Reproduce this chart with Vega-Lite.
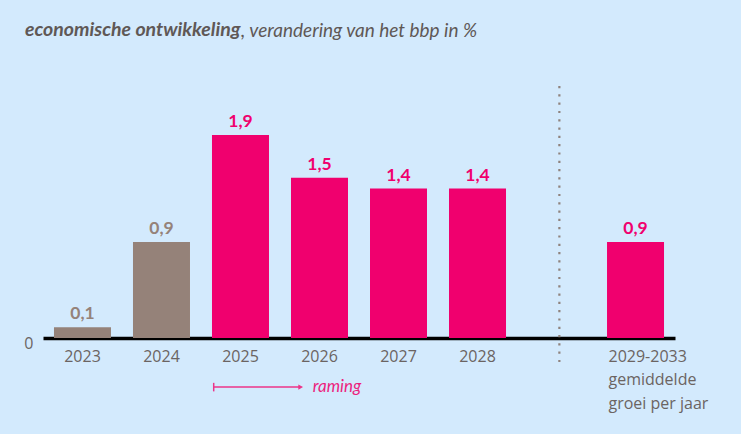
{
  "$schema": "https://vega.github.io/schema/vega-lite/v6.json",
  "width": 632,
  "height": 252,
  "autosize": {"type": "none"},
  "padding": {"left": 43, "top": 86, "right": 66, "bottom": 96},
  "background": "#d3eafd",
  "title": {
    "text": "economische ontwikkeling",
    "anchor": "start",
    "frame": "group",
    "dx": -18,
    "offset": -34,
    "baseline": "alphabetic",
    "font": "Lato",
    "fontSize": 19.5,
    "fontStyle": "italic",
    "fontWeight": "bold",
    "color": "#5f5856"
  },
  "config": {
    "view": {"stroke": null},
    "locale": {"number": {"decimal": ",", "thousands": ".", "grouping": [3], "currency": ["€", ""]}}
  },
  "datasets": {
    "bars": [
      {"cat": "2023", "value": 0.1, "type": "realisatie"},
      {"cat": "2024", "value": 0.9, "type": "realisatie"},
      {"cat": "2025", "value": 1.9, "type": "raming"},
      {"cat": "2026", "value": 1.5, "type": "raming"},
      {"cat": "2027", "value": 1.4, "type": "raming"},
      {"cat": "2028", "value": 1.4, "type": "raming"},
      {"cat": "2029-2033", "value": 0.9, "type": "raming"}
    ],
    "divider": [{"cat": "gap", "top": 2.36, "bottom": -0.28}],
    "arrow": [{"from": "2025", "to": "2026", "y": -0.46, "tickTop": -0.42, "tickBottom": -0.5, "label": "raming"}]
  },
  "layer": [
    {
      "data": {"name": "bars"},
      "mark": {"type": "bar"},
      "encoding": {
        "x": {
          "field": "cat",
          "type": "nominal",
          "sort": null,
          "scale": {
            "domain": ["2023", "2024", "2025", "2026", "2027", "2028", "gap", "2029-2033"],
            "paddingInner": 0.2785,
            "paddingOuter": 0.139
          },
          "axis": {
            "title": null,
            "labelAngle": 0,
            "ticks": false,
            "domainColor": "#000000",
            "domainWidth": 3.5,
            "labelFont": "Open Sans",
            "labelFontSize": 16,
            "labelColor": "#6b6462",
            "labelPadding": 10,
            "labelBaseline": "top",
            "labelLineHeight": 23.5,
            "labelOverlap": false,
            "labelExpr": "datum.value == 'gap' ? '' : datum.value == '2029-2033' ? ['2029-2033', 'gemiddelde', 'groei per jaar'] : datum.value",
            "labelAlign": {"condition": {"test": "datum.value == '2029-2033'", "value": "left"}, "value": "center"},
            "labelOffset": {"condition": {"test": "datum.value == '2029-2033'", "value": -27}, "value": 0}
          }
        },
        "y": {
          "field": "value",
          "type": "quantitative",
          "scale": {"domain": [0, 2.36], "nice": false, "zero": true},
          "axis": {
            "title": ", verandering van het bbp in %",
            "titleAngle": 0,
            "titleAlign": "left",
            "titleBaseline": "alphabetic",
            "titleX": 197.5,
            "titleY": -50,
            "titleFont": "Lato",
            "titleFontSize": 19,
            "titleFontStyle": "italic",
            "titleFontWeight": "normal",
            "titleColor": "#5f5856",
            "values": [0],
            "format": "d",
            "grid": false,
            "ticks": false,
            "domain": false,
            "labelPadding": 10,
            "labelFont": "Open Sans",
            "labelFontSize": 16,
            "labelColor": "#6b6462",
            "labelOffset": 5
          }
        },
        "color": {
          "field": "type",
          "type": "nominal",
          "scale": {"domain": ["realisatie", "raming"], "range": ["#958279", "#f0006e"]},
          "legend": null
        }
      }
    },
    {
      "data": {"name": "bars"},
      "mark": {"type": "text", "dy": -8, "baseline": "alphabetic", "font": "Lato", "fontSize": 17.5, "fontWeight": "bold"},
      "encoding": {
        "x": {"field": "cat", "type": "nominal"},
        "y": {"field": "value", "type": "quantitative"},
        "text": {"field": "value", "type": "quantitative", "format": ".1f"},
        "color": {"field": "type", "type": "nominal", "legend": null}
      }
    },
    {
      "data": {"name": "divider"},
      "mark": {"type": "rule", "color": "#8f837e", "strokeWidth": 2.2, "strokeDash": [2.2, 6.1]},
      "encoding": {
        "x": {"field": "cat", "type": "nominal", "bandPosition": 0.55},
        "y": {"field": "top", "type": "quantitative"},
        "y2": {"field": "bottom"}
      }
    },
    {
      "data": {"name": "arrow"},
      "mark": {"type": "rule", "color": "#ec3589", "strokeWidth": 1.5},
      "encoding": {
        "x": {"field": "from", "type": "nominal", "bandPosition": 0.03},
        "x2": {"field": "to", "bandPosition": 0.18},
        "y": {"field": "y", "type": "quantitative"}
      }
    },
    {
      "data": {"name": "arrow"},
      "mark": {"type": "rule", "color": "#ec3589", "strokeWidth": 1.5},
      "encoding": {
        "x": {"field": "from", "type": "nominal", "bandPosition": 0.03},
        "y": {"field": "tickTop", "type": "quantitative"},
        "y2": {"field": "tickBottom"}
      }
    },
    {
      "data": {"name": "arrow"},
      "mark": {"type": "point", "shape": "triangle-right", "filled": true, "color": "#ec3589", "size": 30, "opacity": 1},
      "encoding": {
        "x": {"field": "to", "type": "nominal", "bandPosition": 0.17},
        "y": {"field": "y", "type": "quantitative"}
      }
    },
    {
      "data": {"name": "arrow"},
      "mark": {"type": "text", "align": "left", "baseline": "middle", "font": "Lato", "fontSize": 17, "fontStyle": "italic", "color": "#ec1f7e"},
      "encoding": {
        "x": {"field": "to", "type": "nominal", "bandPosition": 0.38},
        "y": {"field": "y", "type": "quantitative"},
        "text": {"field": "label"}
      }
    }
  ]
}
